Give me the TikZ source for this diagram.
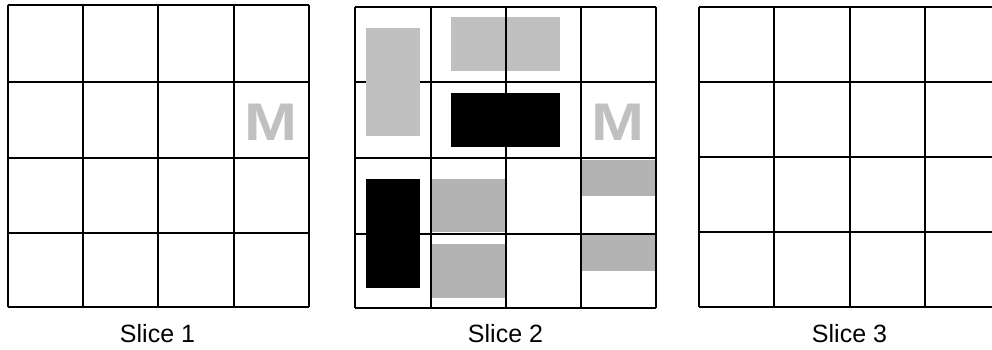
\documentclass[tikz,border=0pt]{standalone}
\usepackage{fontspec}
\setmainfont{Liberation Sans}
\definecolor{lightg}{HTML}{C0C0C0}
\definecolor{darkg}{HTML}{B3B3B3}
\newcommand{\wideM}{\scalebox{1.2}[1]{M}}
\tikzset{
  gridline/.style={line width=2.2pt, black},
  lightbox/.style={fill=lightg, draw=none},
  darkbox/.style={fill=darkg, draw=none},
  blackbox/.style={fill=black, draw=none},
  mark M/.style={text=lightg, inner sep=0pt, font=\fontsize{53}{60}\bfseries\selectfont},
  slicelabel/.style={anchor=base, inner sep=0pt, font=\fontsize{25}{30}\selectfont}
}
\begin{document}
\begin{tikzpicture}[x=1pt,y=-1pt]
\useasboundingbox (0,0) rectangle (992,349);
\clip (0,0) rectangle (992,349);
\fill[white] (0,0) rectangle (992,349);
% ---- Slice 1 grid ----
\foreach \x in {7.7,82.7,157.7,233.7,309.3} \draw[gridline] (\x,4.7) -- (\x,307.3);
\foreach \y in {4.7,81.7,157.7,232.7,307.3} \draw[gridline] (7.7,\y) -- (309.3,\y);
\node[mark M] (m1) at (271.3,122.5) {\wideM};
\node[slicelabel] (l1) at (157.5,342) {Slice 1};
% ---- Slice 2 ----
\fill[lightbox] (451,16.7) rectangle (560,70.7);
\fill[darkbox] (431.7,179) rectangle (505,232.3);
\fill[darkbox] (431.7,244) rectangle (505,297.7);
\fill[darkbox] (581.7,160) rectangle (655,195.7);
\fill[darkbox] (581.7,234.5) rectangle (655,270.7);
\foreach \x in {354.7,430.7,505.7,580.7,655.7} \draw[gridline] (\x,6.7) -- (\x,308.3);
\foreach \y in {6.7,81.7,158.3,233.7,308.3} \draw[gridline] (354.7,\y) -- (655.7,\y);
\fill[lightbox] (366,28) rectangle (420,135.7);
\fill[blackbox] (451,93) rectangle (560,146.7);
\fill[blackbox] (366,179) rectangle (420,287.7);
\node[mark M] (m2) at (618.3,122) {\wideM};
\node[slicelabel] (l2) at (505.5,342) {Slice 2};
% ---- Slice 3 grid ----
\foreach \x in {698.7,773.7,849.7,925,1000.5} \draw[gridline] (\x,6.7) -- (\x,306.7);
\foreach \y in {6.7,81.7,156.7,231.7,306.7} \draw[gridline] (698.7,\y) -- (1000.5,\y);
\node[slicelabel] (l3) at (849.5,342) {Slice 3};
\end{tikzpicture}
\end{document}
